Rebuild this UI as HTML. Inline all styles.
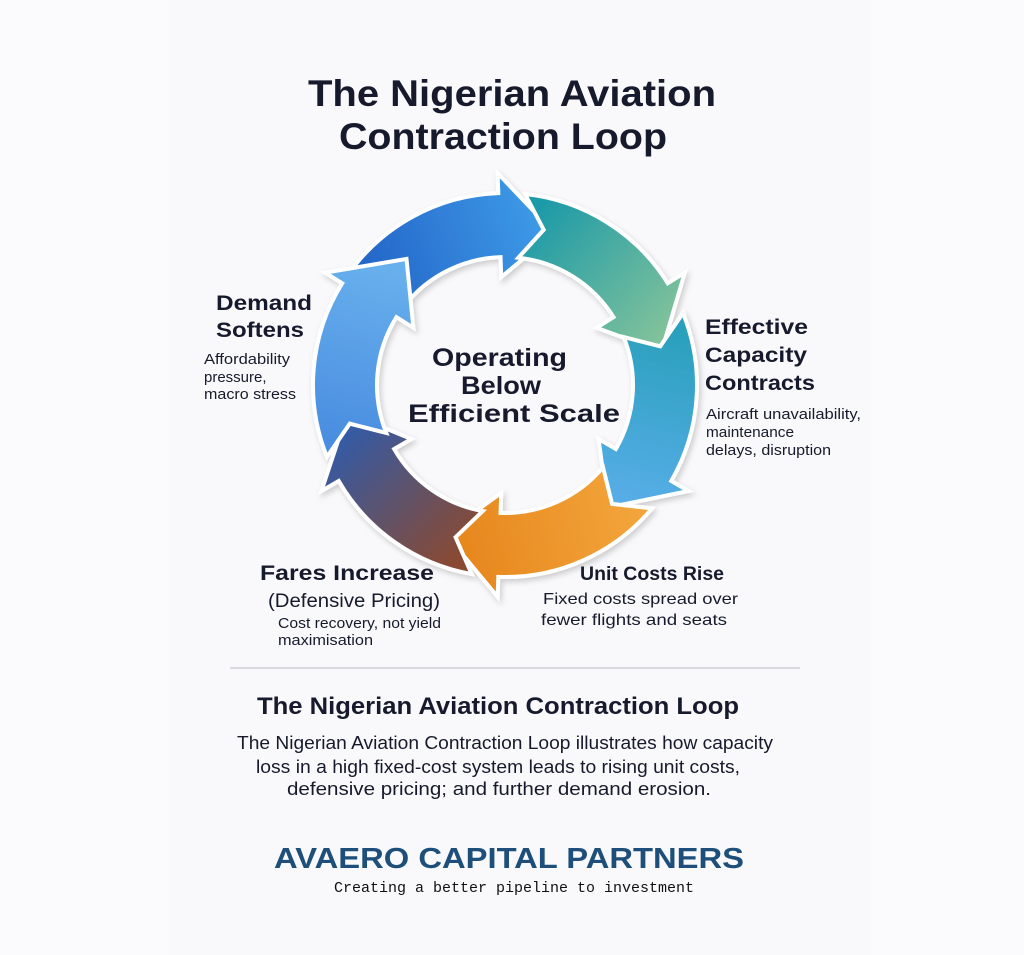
<!DOCTYPE html>
<html><head><meta charset="utf-8"><style>
html,body{margin:0;padding:0;background:#fbfbfd;}
svg{display:block}
text{font-family:"Liberation Sans",sans-serif;fill:#161a2c}
</style></head><body>
<svg id="s" width="1024" height="955" viewBox="0 0 1024 955" xmlns="http://www.w3.org/2000/svg">
<defs>
<filter id="sh" x="-20%" y="-20%" width="140%" height="140%"><feDropShadow dx="2" dy="3" stdDeviation="3" flood-color="#000" flood-opacity="0.18"/></filter>
</defs>
<rect x="170" y="0" width="700" height="955" fill="#f9f9fb"/>
<g id="ring" filter="url(#sh)"></g>
<text x="308" y="106" font-size="37" font-weight="bold" textLength="408" lengthAdjust="spacingAndGlyphs">The Nigerian Aviation</text>
<text x="339" y="149" font-size="37" font-weight="bold" textLength="328" lengthAdjust="spacingAndGlyphs">Contraction Loop</text>

<text x="432" y="366" font-size="25" font-weight="bold" textLength="135" lengthAdjust="spacingAndGlyphs">Operating</text>
<text x="461" y="394" font-size="25" font-weight="bold" textLength="80" lengthAdjust="spacingAndGlyphs">Below</text>
<text x="408" y="422" font-size="25" font-weight="bold" textLength="212" lengthAdjust="spacingAndGlyphs">Efficient Scale</text>

<text x="216" y="310" font-size="21" font-weight="bold" textLength="96" lengthAdjust="spacingAndGlyphs">Demand</text>
<text x="216" y="337" font-size="21" font-weight="bold" textLength="88" lengthAdjust="spacingAndGlyphs">Softens</text>
<text x="204" y="364" font-size="15" textLength="86" lengthAdjust="spacingAndGlyphs">Affordability</text>
<text x="204" y="382" font-size="15">pressure,</text>
<text x="204" y="399" font-size="15" textLength="92" lengthAdjust="spacingAndGlyphs">macro stress</text>

<text x="705" y="334" font-size="21" font-weight="bold" textLength="103" lengthAdjust="spacingAndGlyphs">Effective</text>
<text x="705" y="362" font-size="21" font-weight="bold" textLength="102" lengthAdjust="spacingAndGlyphs">Capacity</text>
<text x="705" y="390" font-size="21" font-weight="bold" textLength="110" lengthAdjust="spacingAndGlyphs">Contracts</text>
<text x="706" y="419" font-size="15" textLength="155" lengthAdjust="spacingAndGlyphs">Aircraft unavailability,</text>
<text x="706" y="437" font-size="15" textLength="88" lengthAdjust="spacingAndGlyphs">maintenance</text>
<text x="706" y="455" font-size="15" textLength="125" lengthAdjust="spacingAndGlyphs">delays, disruption</text>

<text x="580" y="580" font-size="19" font-weight="bold" textLength="144" lengthAdjust="spacingAndGlyphs">Unit Costs Rise</text>
<text x="543" y="604" font-size="16" textLength="195" lengthAdjust="spacingAndGlyphs">Fixed costs spread over</text>
<text x="541" y="625" font-size="16" textLength="186" lengthAdjust="spacingAndGlyphs">fewer flights and seats</text>

<text x="260" y="580" font-size="21" font-weight="bold" textLength="174" lengthAdjust="spacingAndGlyphs">Fares Increase</text>
<text x="268" y="607" font-size="19" textLength="172" lengthAdjust="spacingAndGlyphs">(Defensive Pricing)</text>
<text x="278" y="628" font-size="15" textLength="163" lengthAdjust="spacingAndGlyphs">Cost recovery, not yield</text>
<text x="278" y="645" font-size="15" textLength="95" lengthAdjust="spacingAndGlyphs">maximisation</text>

<line x1="230" y1="668" x2="800" y2="668" stroke="#d8dade" stroke-width="2"/>

<text x="257" y="714" font-size="24" font-weight="bold" textLength="482" lengthAdjust="spacingAndGlyphs">The Nigerian Aviation Contraction Loop</text>
<text x="237" y="749" font-size="18" textLength="536" lengthAdjust="spacingAndGlyphs">The Nigerian Aviation Contraction Loop illustrates how capacity</text>
<text x="256" y="773" font-size="18" textLength="484" lengthAdjust="spacingAndGlyphs">loss in a high fixed-cost system leads to rising unit costs,</text>
<text x="287" y="795" font-size="18" textLength="424" lengthAdjust="spacingAndGlyphs">defensive pricing; and further demand erosion.</text>

<text x="274" y="868" font-size="29" font-weight="bold" style="fill:#1d4f7a" textLength="470" lengthAdjust="spacingAndGlyphs">AVAERO CAPITAL PARTNERS</text>
<text x="514" y="892" font-size="15" text-anchor="middle" style="font-family:'Liberation Mono',monospace;fill:#111">Creating a better pipeline to investment</text>
</svg>
<script>
(function(){
var cx=505,cy=385,Ri=128,Ro=192,w=20,H=20;
var NS="http://www.w3.org/2000/svg";
var svg=document.getElementById('s'),defs=svg.querySelector('defs'),g=document.getElementById('ring');
function P(r,a){a=a*Math.PI/180;return [cx+r*Math.cos(a),cy+r*Math.sin(a)];}
var arrows=[
 [-146,-72,'#2466c8','#3e9ce8'],
 [-84,-12,'#1d9aa8','#86c49a'],
 [-22,50,'#2aa0bc','#5aaeea'],
 [40,112,'#f2a43a','#e6851c'],
 [100,170,'#8a4a30','#2e5cae'],
 [158,232,'#4a8ee0','#6ab2ee']
];
arrows.forEach(function(a,i){
 var a0=a[0],a1=a[1],b=a1-H;
 var s1=P(Ro,a0),s2=P(Ro,b),h1=P(Ro+w,b),t=P((Ri+Ro)/2,a1),h2=P(Ri-w,b),e1=P(Ri,b),e0=P(Ri,a0),n=P((Ri+Ro)/2,a0+8);
 var d='M'+s1+' A'+Ro+' '+Ro+' 0 0 1 '+s2+' L'+h1+' L'+t+' L'+h2+' L'+e1+' A'+Ri+' '+Ri+' 0 0 0 '+e0+' L'+n+' Z';
 var gr=document.createElementNS(NS,'linearGradient');gr.setAttribute('id','g'+i);
 gr.setAttribute('gradientUnits','userSpaceOnUse');
 var p0=P((Ri+Ro)/2,a0),p1=P((Ri+Ro)/2,a1);
 gr.setAttribute('x1',p0[0]);gr.setAttribute('y1',p0[1]);gr.setAttribute('x2',p1[0]);gr.setAttribute('y2',p1[1]);
 [[0,a[2]],[1,a[3]]].forEach(function(s){var st=document.createElementNS(NS,'stop');st.setAttribute('offset',s[0]);st.setAttribute('stop-color',s[1]);gr.appendChild(st);});
 defs.appendChild(gr);
 var p=document.createElementNS(NS,'path');p.setAttribute('d',d);p.setAttribute('fill','url(#g'+i+')');
 p.setAttribute('stroke','#fff');p.setAttribute('stroke-width','4');p.setAttribute('stroke-linejoin','miter');
 g.appendChild(p);
});
})();
</script>
</body></html>
